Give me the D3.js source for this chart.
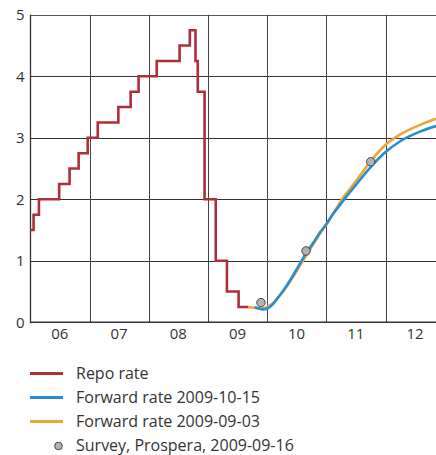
<!DOCTYPE html>
<html><head><meta charset="utf-8">
<script src="https://cdn.jsdelivr.net/npm/d3@7"></script>
<style>
html,body{margin:0;padding:0;background:#fff;}
svg{display:block;font-family:"Open Sans",sans-serif;}
</style></head>
<body>
<svg id="chart" width="436" height="455"></svg>
<script>
// Repo rate: date of change and new level
const repoDates = ["2006-01-01","2006-01-20","2006-02-22","2006-06-27","2006-08-30","2006-10-25","2006-12-20",
  "2007-02-20","2007-06-27","2007-09-11","2007-10-30","2008-02-19","2008-07-09","2008-09-10",
  "2008-10-15","2008-10-29","2008-12-10","2009-02-17","2009-04-27","2009-07-08","2009-09-07"];
const repoValues = [1.5,1.75,2.0,2.25,2.5,2.75,3.0,3.25,3.5,3.75,4.0,4.25,4.5,4.75,4.25,3.75,2.0,1.0,0.5,0.25,0.25];

// Forward rate 2009-10-15 (blue), time in decimal years
const fwd1015Years = [2009.79,2009.86,2009.93,2010.0,2010.08,2010.18,2010.29,2010.39,2010.49,2010.59,2010.69,
  2010.79,2010.89,2011.0,2011.11,2011.23,2011.35,2011.47,2011.57,2011.74,2011.99,2012.24,2012.58,2012.853];
const fwd1015Values = [0.25,0.225,0.21,0.225,0.28,0.40,0.54,0.69,0.85,1.02,1.17,
  1.31,1.46,1.60,1.76,1.91,2.06,2.20,2.32,2.515,2.76,2.94,3.10,3.19];

// Forward rate 2009-09-03 (orange), time in decimal years
const fwd0903Years = [2009.675,2009.79,2009.88,2009.98,2010.08,2010.18,2010.29,2010.39,2010.49,2010.59,2010.69,
  2010.79,2010.89,2011.0,2011.11,2011.23,2011.35,2011.47,2011.57,2011.74,2011.99,2012.24,2012.58,2012.853];
const fwd0903Values = [0.25,0.235,0.22,0.24,0.30,0.40,0.53,0.67,0.82,0.98,1.13,
  1.29,1.44,1.59,1.76,1.95,2.11,2.26,2.39,2.61,2.88,3.05,3.21,3.31];

// Survey, Prospera, 2009-09-16
const surveyDates = ["2009-11-23","2010-08-28","2011-10-01"];
const surveyValues = [0.32,1.16,2.61];

const yTicks = [0,1,2,3,4,5];
const xTickLabels = ["06","07","08","09","10","11","12"];
const xTickYears = [2006,2007,2008,2009,2010,2011,2012];

const legendLabels = ["Repo rate","Forward rate 2009-10-15","Forward rate 2009-09-03","Survey, Prospera, 2009-09-16"];

const colors = {repo:"#ae2f38", blue:"#2a8dcb", orange:"#e9a73a"};

const parse = d3.timeParse("%Y-%m-%d");
const fromYear = yr => { const y0 = Math.floor(yr); const a = new Date(y0,0,1), b = new Date(y0+1,0,1);
  return new Date(+a + (yr - y0) * (b - a)); };
const svg = d3.select("#chart");

const x = d3.scaleTime().domain([parse("2006-01-01"), parse("2012-11-07")]).range([30.5, 436]);
const y = d3.scaleLinear().domain([0,5]).range([322.3, 14.8]);
const cr = v => Math.round(v) + 0.5;

// grid
const grid = svg.append("g");
yTicks.forEach(t => {
  if (t === 0) return;
  grid.append("line").attr("x1", 30).attr("x2", 436).attr("y1", cr(y(t))).attr("y2", cr(y(t)))
    .attr("stroke", t === 5 ? "#555" : "#333").attr("stroke-width", 1);
});
xTickYears.slice(1).forEach(yr => {
  const xx = cr(x(new Date(yr,0,1)));
  grid.append("line").attr("x1", xx).attr("x2", xx).attr("y1", y(5)).attr("y2", y(0))
    .attr("stroke", "#444").attr("stroke-width", 1);
});
// axes
grid.append("line").attr("x1", 30.5).attr("x2", 30.5).attr("y1", y(5)).attr("y2", y(0)+1)
  .attr("stroke", "#333").attr("stroke-width", 1.3);
grid.append("line").attr("x1", 30).attr("x2", 436).attr("y1", y(0)).attr("y2", y(0))
  .attr("stroke", "#333").attr("stroke-width", 1.6);

// tick labels
svg.append("g").selectAll("text").data(yTicks).join("text")
  .attr("x", 24.5).attr("y", d => y(d)).attr("dy", "0.36em")
  .attr("text-anchor", "end").attr("font-size", 15).attr("fill", "#333")
  .text(d => d);
svg.append("g").selectAll("text").data(xTickYears).join("text")
  .attr("x", d => x(new Date(d,6,1))).attr("y", 338.5)
  .attr("text-anchor", "middle").attr("font-size", 15).attr("fill", "#333")
  .text((d,i) => xTickLabels[i]);

// repo step line
const repo = repoDates.map((d,i) => ({d: parse(d), v: repoValues[i]}));
svg.append("path").datum(repo)
  .attr("d", d3.line().x(p => x(p.d)).y(p => y(p.v)).curve(d3.curveStepAfter))
  .attr("fill", "none").attr("stroke", colors.repo).attr("stroke-width", 2.6)
  .attr("stroke-linejoin", "miter");

const lineGen = d3.line().x(p => x(p.d)).y(p => y(p.v)).curve(d3.curveMonotoneX);
const blue = fwd1015Years.map((d,i) => ({d: fromYear(d), v: fwd1015Values[i]}));
const orange = fwd0903Years.map((d,i) => ({d: fromYear(d), v: fwd0903Values[i]}));
svg.append("path").datum(orange).attr("d", lineGen)
  .attr("fill", "none").attr("stroke", colors.orange).attr("stroke-width", 2.6);
svg.append("path").datum(blue).attr("d", lineGen)
  .attr("fill", "none").attr("stroke", colors.blue).attr("stroke-width", 2.6);

// survey points
const survey = surveyDates.map((d,i) => ({d: parse(d), v: surveyValues[i]}));
svg.append("g").selectAll("circle").data(survey).join("circle")
  .attr("cx", p => x(p.d)).attr("cy", p => y(p.v)).attr("r", 4.2)
  .attr("fill", "#b3b3b3").attr("stroke", "#444").attr("stroke-width", 1);

// legend
const lg = svg.append("g");
const lgY = [373.5, 397.5, 421.5, 446];
const lgCols = [colors.repo, colors.blue, colors.orange];
lgCols.forEach((c,i) => {
  lg.append("line").attr("x1", 30).attr("x2", 63).attr("y1", lgY[i]).attr("y2", lgY[i])
    .attr("stroke", c).attr("stroke-width", 3);
});
lg.append("circle").attr("cx", 58.5).attr("cy", lgY[3]).attr("r", 3.8)
  .attr("fill", "#b3b3b3").attr("stroke", "#444").attr("stroke-width", 1);
legendLabels.forEach((t,i) => {
  lg.append("text").attr("x", 76).attr("y", lgY[i] + 5)
    .attr("font-size", 16).attr("fill", "#333").text(t);
});
</script>
</body></html>
